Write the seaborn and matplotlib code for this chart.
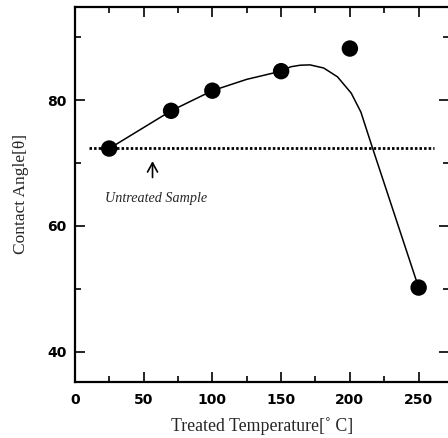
import numpy as np
import pandas as pd
import matplotlib
matplotlib.use('Agg')
import matplotlib.pyplot as plt
from matplotlib.ticker import MultipleLocator
import seaborn as sns

# measured points
temps = [25, 70, 100, 150, 200, 250]
angles = [72.3, 78.3, 81.5, 84.6, 88.2, 50.2]

# fitted curve
curve_t = [25, 70, 100, 125, 150, 157, 164, 171, 181, 191, 201, 208, 216, 250]
curve_a = [72.3, 78.3, 81.5, 83.3, 84.6, 85.3, 85.55, 85.6, 85.1, 83.7, 81.1, 78.1, 72.7, 50.2]

# untreated reference level
untreated_t = [10, 261]
untreated_a = [72.4, 72.4]

sns.set_style('ticks')

fig = plt.figure(figsize=(4.48, 4.38), dpi=100)
ax = fig.add_axes([0.167, 0.128, 0.835, 0.856])

sns.lineplot(x=untreated_t, y=untreated_a, ax=ax, color='black',
             linewidth=2.0, linestyle=(0, (0.9, 0.75)))
sns.lineplot(x=curve_t, y=curve_a, ax=ax, color='black', linewidth=1.1)
sns.scatterplot(x=temps, y=angles, ax=ax, color='black', s=140,
                edgecolor='none', zorder=5)

ax.set_xlim(0, 272)
ax.set_ylim(35.2, 94.8)
ax.xaxis.set_major_locator(MultipleLocator(50))
ax.xaxis.set_minor_locator(MultipleLocator(25))
ax.yaxis.set_major_locator(MultipleLocator(20))
ax.yaxis.set_minor_locator(MultipleLocator(10))

ax.tick_params(which='both', direction='in', top=True, right=True,
               width=1.2, colors='black')
ax.tick_params(which='major', length=7)
ax.tick_params(which='minor', length=4)
ax.spines['right'].set_visible(False)
for s in ['left', 'bottom', 'top']:
    ax.spines[s].set_linewidth(1.6)
    ax.spines[s].set_color('black')

# shorter ticks on top and right
for t in ax.xaxis.get_major_ticks() + ax.xaxis.get_minor_ticks():
    t.tick2line.set_markersize(4.5)
for t in ax.yaxis.get_major_ticks() + ax.yaxis.get_minor_ticks():
    t.tick2line.set_markersize(4.5)

for lab in ax.get_xticklabels() + ax.get_yticklabels():
    lab.set_fontfamily('DejaVu Sans')
    lab.set_fontweight('bold')
    lab.set_fontsize(10)
ax.tick_params(axis='x', pad=8)
ax.tick_params(axis='y', pad=6)

ax.set_xlabel('Treated Temperature[\u02da C]', fontfamily='Liberation Serif',
              fontsize=12.8, labelpad=7)
ax.set_ylabel('Contact Angle[\u03b8]', fontfamily='Liberation Serif',
              fontsize=12.5, labelpad=13)

ax.annotate('', xy=(56.5, 70.3), xytext=(56.5, 67.7),
            arrowprops=dict(arrowstyle='->, head_length=0.55, head_width=0.3',
                            color='black', lw=1.2,
                            shrinkA=0, shrinkB=0, mutation_scale=12))
ax.text(59, 64.4, 'Untreated Sample', fontfamily='Liberation Serif',
        fontstyle='italic', fontsize=10.2, ha='center', va='center')

fig.savefig('out.png', dpi=100)
